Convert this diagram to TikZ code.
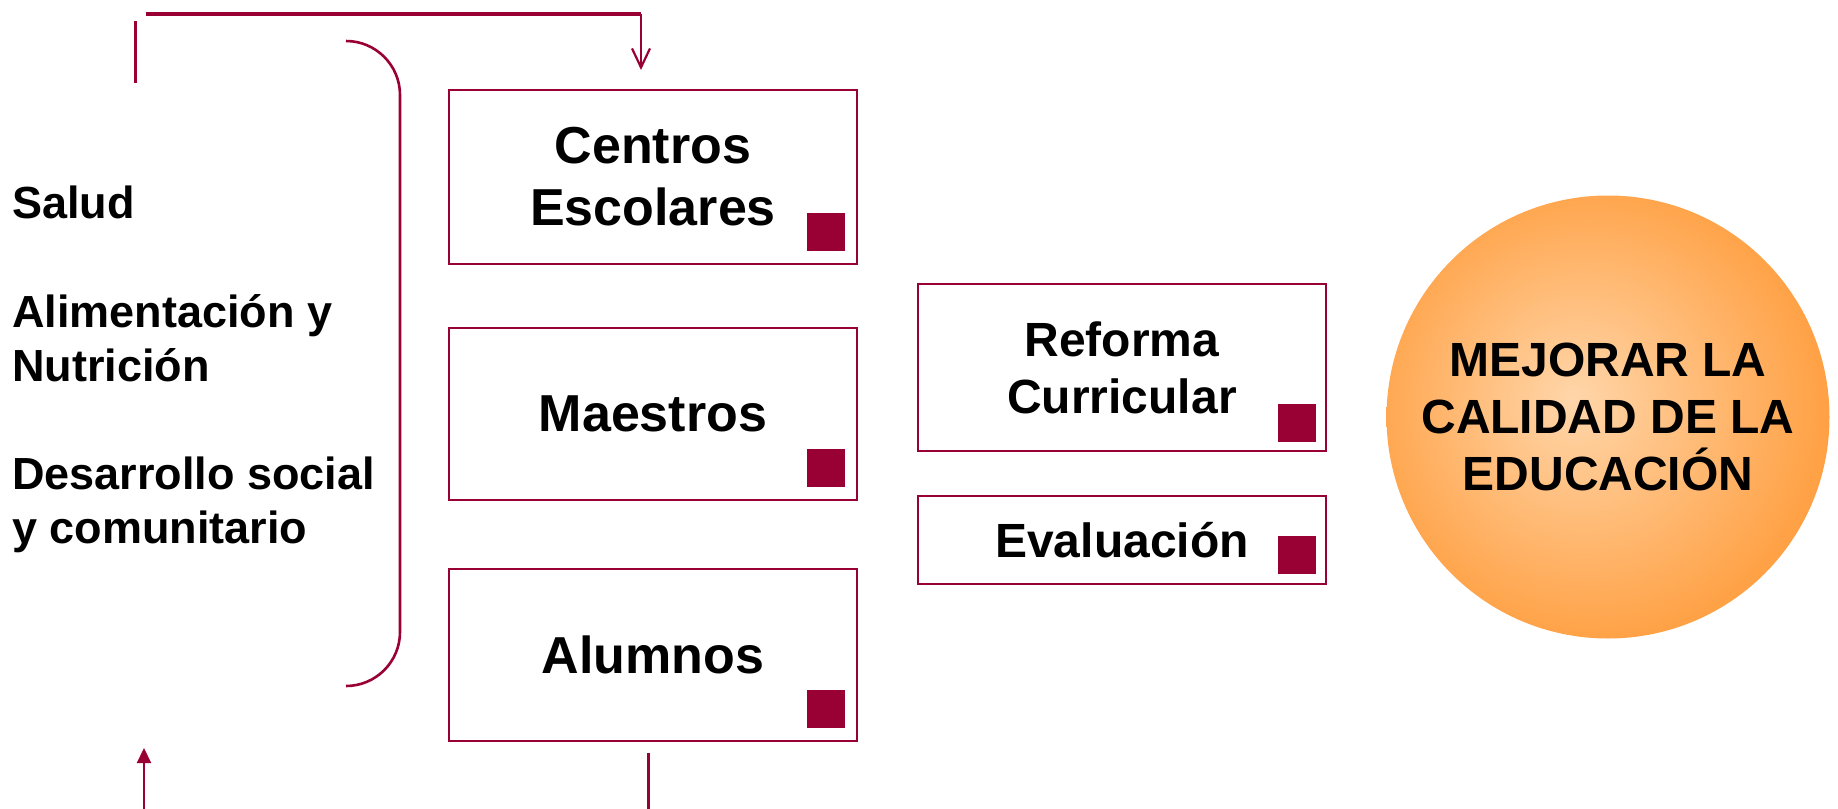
\documentclass[tikz,border=0pt]{standalone}
\usepackage{fontspec}
\setmainfont{Liberation Sans}
\usetikzlibrary{arrows.meta,positioning}

\definecolor{vino}{HTML}{990033}
\definecolor{naranja}{HTML}{FF9630}
\definecolor{crema}{HTML}{FFD6AA}
\pgfdeclareradialshading{brillo}{\pgfpoint{-4bp}{2bp}}{color(0bp)=(crema); color(32bp)=(naranja); color(50bp)=(naranja)}

\begin{document}
\begin{tikzpicture}[x=0.5pt,y=-0.5pt]
\tikzstyle{every node}+=[inner sep=0pt]
\tikzstyle{caja}=[draw=vino, line width=1.3pt, minimum width=204pt, align=center, font=\bfseries\fontsize{26}{31}\selectfont]
\tikzstyle{cajita}=[draw=vino, line width=1.3pt, minimum width=204pt, align=center, font=\bfseries\fontsize{24}{28.5}\selectfont]
\tikzstyle{marca}=[fill=vino, minimum size=18.75pt, anchor=south east]
\tikzstyle{lista}=[anchor=base west, align=left, font=\bfseries\fontsize{22.5}{27}\selectfont]
\tikzstyle{linea}=[draw=vino, line width=1.3pt]
\useasboundingbox (0,0) rectangle (1838,809);

\node [lista] (salud) at (12,218) {Salud};
\node [lista] (alimentacion) at (12,381) {Alimentación y\\Nutrición};
\node [lista] (desarrollo) at (12,543) {Desarrollo social\\y comunitario};

\node [caja, minimum height=87pt] (centros) at (653,177) {Centros\\Escolares};
\node [caja, minimum height=86pt] (maestros) at (653,414) {Maestros};
\node [caja, minimum height=86pt] (alumnos) at (653,655) {Alumnos};
\node [cajita, minimum height=83.5pt] (reforma) at (1122,367.5) {Reforma\\Curricular};
\node [cajita, minimum height=44pt] (evaluacion) at (1122,540) {Evaluación};

\node [marca] (mcentros) at ([shift={(-13,-14)}]centros.south east) {};
\node [marca] (mmaestros) at ([shift={(-13,-14)}]maestros.south east) {};
\node [marca] (malumnos) at ([shift={(-13,-14)}]alumnos.south east) {};
\node [marca] (mreforma) at ([shift={(-11,-10)}]reforma.south east) {};
\node [marca] (mevaluacion) at ([shift={(-11,-11)}]evaluacion.south east) {};

\node [circle, minimum size=221.5pt, shading=brillo, align=center, font=\bfseries\fontsize{24}{28.5}\selectfont] (meta) at (1608,417) {MEJORAR LA\\CALIDAD DE LA\\EDUCACIÓN};

\coordinate (arribaizq) at (146,14);
\coordinate (arribader) at (641,14);
\coordinate (punta) at (641,70);
\coordinate (palo1) at (135,21);
\coordinate (palo2) at (135,83);
\coordinate (flecha1) at (144,809);
\coordinate (flecha2) at (144,748);
\coordinate (bajo1) at (648,753);
\coordinate (bajo2) at (648,809);
\coordinate (llave1) at (346,41);
\coordinate (llave2) at (346,686);

\draw [linea, line width=1.7pt] (arribaizq) -- (arribader);
\draw [linea, line width=1.1pt, -{Straight Barb[length=9.5pt,width=9pt]}] (arribader) -- (punta);
\draw [linea, line width=1.5pt] (palo1) -- (palo2);
\draw [linea, line width=1.1pt, -{Triangle[length=7.5pt,width=7pt]}] (flecha1) -- (flecha2);
\draw [linea, line width=1.5pt] (bajo1) -- (bajo2);
\draw [linea] (llave1) arc (-90:0:54) -- ([shift={(54,-54)}]llave2) arc (0:90:54);
\end{tikzpicture}
\end{document}
